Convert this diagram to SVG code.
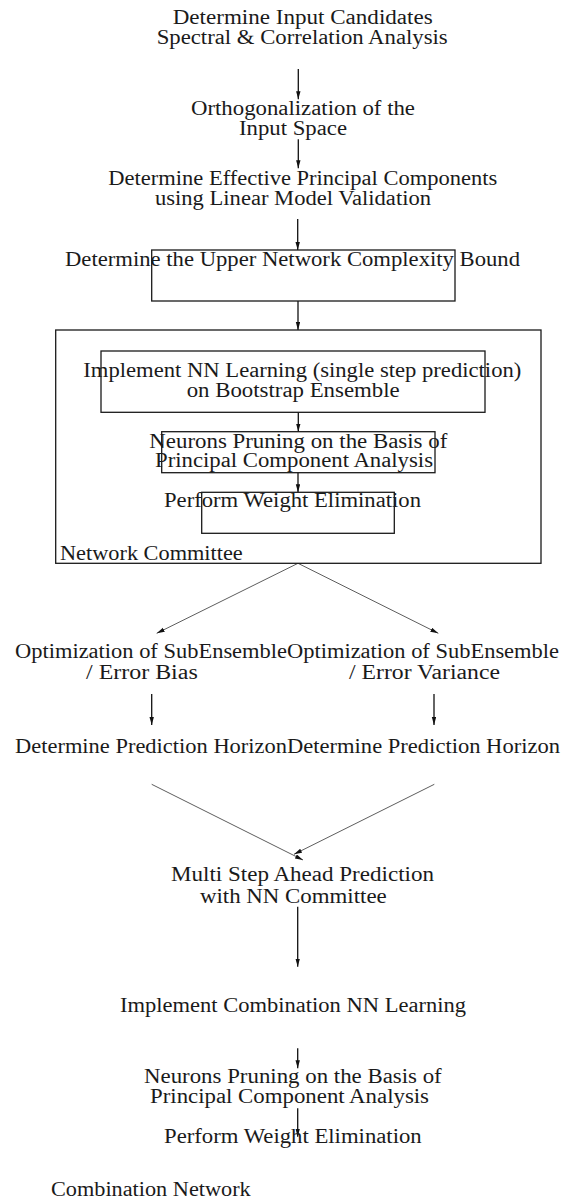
<svg xmlns="http://www.w3.org/2000/svg" width="565" height="1203" viewBox="0 0 565 1203">
<style>
text{font-family:"Liberation Serif","Times New Roman",serif;font-size:20px;fill:#1a1a1a}
.box{fill:none;stroke:#1a1a1a;stroke-width:1.3}
.v{stroke:#111;stroke-width:1.3;fill:none}
.d{stroke:#333;stroke-width:0.8;fill:none}
</style>
<defs>
<marker id="ah" markerUnits="userSpaceOnUse" markerWidth="10" markerHeight="6" refX="8" refY="2.2" orient="auto">
<path d="M0,0 L8,2.2 L0,4.4 z" fill="#111"/>
</marker>
</defs>
<rect width="565" height="1203" fill="#fff"/>
<g id="connectors">
<line class="v" x1="298.3" y1="69" x2="298.3" y2="99.3" marker-end="url(#ah)"/>
<line class="v" x1="298.3" y1="139.3" x2="298.3" y2="168.3" marker-end="url(#ah)"/>
<line class="v" x1="297.7" y1="219" x2="297.7" y2="250" marker-end="url(#ah)"/>
<line class="v" x1="298" y1="301" x2="298" y2="330" marker-end="url(#ah)"/>
<line class="v" x1="298.3" y1="412.3" x2="298.3" y2="431.7" marker-end="url(#ah)"/>
<line class="v" x1="298" y1="472.7" x2="298" y2="492.3" marker-end="url(#ah)"/>
<line class="d" x1="298" y1="563.3" x2="156.7" y2="633.3" marker-end="url(#ah)"/>
<line class="d" x1="298" y1="563.3" x2="438.3" y2="633.3" marker-end="url(#ah)"/>
<line class="v" x1="151.7" y1="694" x2="151.7" y2="725" marker-end="url(#ah)"/>
<line class="v" x1="434" y1="694" x2="434" y2="725" marker-end="url(#ah)"/>
<line class="d" x1="151.7" y1="784.3" x2="303" y2="860" marker-end="url(#ah)"/>
<line class="d" x1="434.3" y1="784.3" x2="294" y2="854.3" marker-end="url(#ah)"/>
<line class="v" x1="297.7" y1="906.7" x2="297.7" y2="966.7" marker-end="url(#ah)"/>
<line class="v" x1="297.7" y1="1048.3" x2="297.7" y2="1068.3" marker-end="url(#ah)"/>
<line class="v" x1="297.7" y1="1108.3" x2="297.7" y2="1136.7" marker-end="url(#ah)"/>
</g>
<g id="input-candidates">
<text x="172.7" y="24" textLength="260" lengthAdjust="spacingAndGlyphs">Determine Input Candidates</text>
<text x="156.7" y="44.3" textLength="291" lengthAdjust="spacingAndGlyphs">Spectral &amp; Correlation Analysis</text>
</g>
<g id="orthogonalization">
<text x="191" y="115" textLength="224" lengthAdjust="spacingAndGlyphs">Orthogonalization of the</text>
<text x="239" y="135" textLength="108" lengthAdjust="spacingAndGlyphs">Input Space</text>
</g>
<g id="principal-components">
<text x="108.3" y="185.3" textLength="389" lengthAdjust="spacingAndGlyphs">Determine Effective Principal Components</text>
<text x="155" y="205.3" textLength="276" lengthAdjust="spacingAndGlyphs">using Linear Model Validation</text>
</g>
<g id="complexity-bound">
<rect class="box" x="151.7" y="250" width="303.3" height="51"/>
<text x="65" y="265.7" textLength="455" lengthAdjust="spacingAndGlyphs">Determine the Upper Network Complexity Bound</text>
</g>
<g id="network-committee">
<rect class="box" x="55.7" y="330" width="485.3" height="233.3"/>
<text x="60" y="560" textLength="182.7" lengthAdjust="spacingAndGlyphs">Network Committee</text>
</g>
<g id="nn-learning">
<rect class="box" x="101" y="351" width="384" height="61.3"/>
<text x="83.3" y="376.7" textLength="438" lengthAdjust="spacingAndGlyphs">Implement NN Learning (single step prediction)</text>
<text x="186.7" y="396.7" textLength="213" lengthAdjust="spacingAndGlyphs">on Bootstrap Ensemble</text>
</g>
<g id="neurons-pruning">
<rect class="box" x="161.7" y="431.7" width="273.3" height="41"/>
<text x="149.3" y="447.7" textLength="298" lengthAdjust="spacingAndGlyphs">Neurons Pruning on the Basis of</text>
<text x="155" y="467.3" textLength="278" lengthAdjust="spacingAndGlyphs">Principal Component Analysis</text>
</g>
<g id="weight-elimination">
<rect class="box" x="201.7" y="492.3" width="192.6" height="41"/>
<text x="164" y="507.3" textLength="257" lengthAdjust="spacingAndGlyphs">Perform Weight Elimination</text>
</g>
<g id="opt-bias">
<text x="15" y="658.3" textLength="272" lengthAdjust="spacingAndGlyphs">Optimization of SubEnsemble</text>
<text x="86" y="679.3" textLength="111.7" lengthAdjust="spacingAndGlyphs">/ Error Bias</text>
</g>
<g id="opt-variance">
<text x="287" y="658.3" textLength="272" lengthAdjust="spacingAndGlyphs">Optimization of SubEnsemble</text>
<text x="349" y="679.3" textLength="151" lengthAdjust="spacingAndGlyphs">/ Error Variance</text>
</g>
<g id="horizon-left">
<text x="15" y="752.7" textLength="272" lengthAdjust="spacingAndGlyphs">Determine Prediction Horizon</text>
</g>
<g id="horizon-right">
<text x="287" y="752.7" textLength="273" lengthAdjust="spacingAndGlyphs">Determine Prediction Horizon</text>
</g>
<g id="multi-step">
<text x="171" y="881" textLength="263" lengthAdjust="spacingAndGlyphs">Multi Step Ahead Prediction</text>
<text x="200" y="902.7" textLength="186.7" lengthAdjust="spacingAndGlyphs">with NN Committee</text>
</g>
<g id="combination-learning">
<text x="120" y="1012.3" textLength="346" lengthAdjust="spacingAndGlyphs">Implement Combination NN Learning</text>
</g>
<g id="combination-pruning">
<text x="144" y="1082.7" textLength="297.7" lengthAdjust="spacingAndGlyphs">Neurons Pruning on the Basis of</text>
<text x="150" y="1103.3" textLength="279" lengthAdjust="spacingAndGlyphs">Principal Component Analysis</text>
</g>
<g id="combination-weight">
<text x="164" y="1143.3" textLength="257.7" lengthAdjust="spacingAndGlyphs">Perform Weight Elimination</text>
</g>
<g id="combination-network">
<text x="51" y="1196" textLength="199.7" lengthAdjust="spacingAndGlyphs">Combination Network</text>
</g>
</svg>
